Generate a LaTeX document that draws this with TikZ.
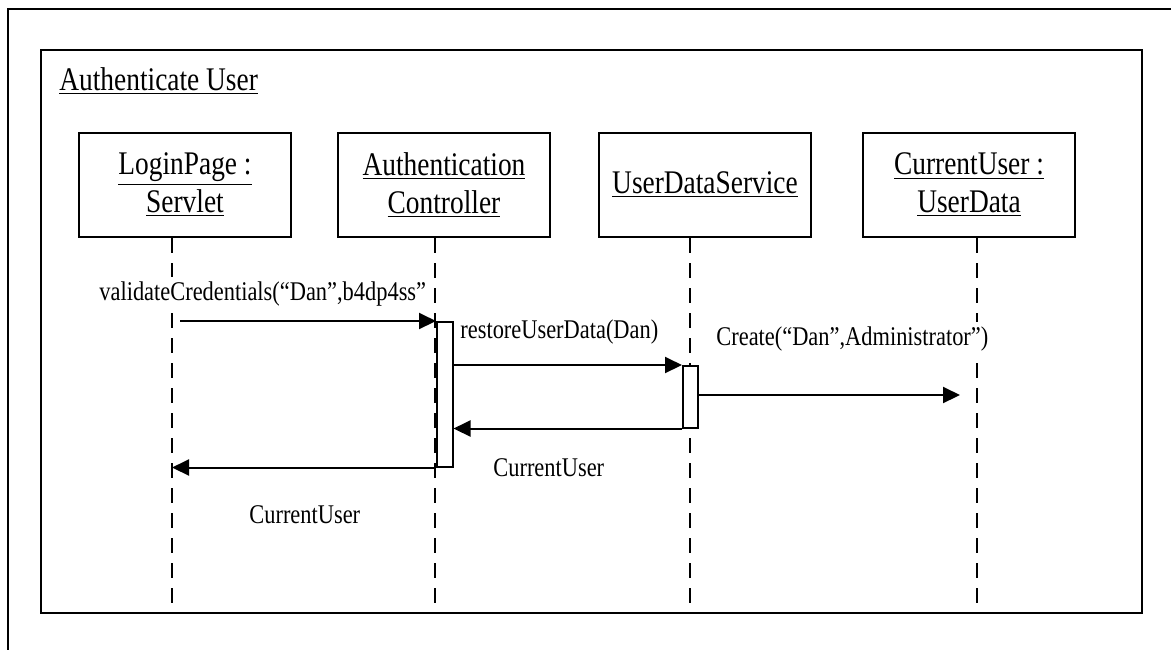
\documentclass[tikz,border=0pt]{standalone}
\usepackage{fontspec}
\setmainfont[FakeStretch=0.83]{Liberation Serif}
\usetikzlibrary{arrows.meta}
\tikzset{
  obj/.style={draw, line width=1pt, minimum width=106pt, minimum height=52pt,
    align=center, inner sep=0pt, font=\fontsize{16.5}{19}\selectfont},
  life/.style={line width=0.8pt, dash pattern=on 7.5pt off 5pt},
  bar/.style={draw, fill=white, line width=0.75pt, inner sep=0pt, anchor=north west},
  msg/.style={line width=1pt, -{Triangle[length=8.5pt,width=8pt]}},
  lbl/.style={anchor=base west, fill=white, inner xsep=0pt, inner ysep=2pt,
    font=\fontsize{13.5}{16}\selectfont},
}
\begin{document}
\begin{tikzpicture}[x=0.5pt, y=-0.5pt]
      \useasboundingbox (0,0) rectangle (1171,650);
      \draw[line width=1pt] (1171,9) -- (8,9) -- (8,650);
      \draw[line width=1pt] (41,50) rectangle (1142,613);
      \node[lbl, font=\fontsize{16.5}{19}\selectfont] (title) at (59,90) {\underline{Authenticate User}};
      \draw
        (185,185) node[obj] (login) {\underline{LoginPage :}\\\underline{Servlet}}
        (444,185) node[obj] (auth) {\underline{Authentication}\\\underline{Controller}}
        (705,185) node[obj] (uds) {\underline{UserDataService}}
        (969,185) node[obj] (cu) {\underline{CurrentUser :}\\\underline{UserData}};
      \foreach \n/\x in {login/172, auth/435, uds/690, cu/977} {
        \coordinate (\n-end) at (\x,613);
        \draw[life] (\n.south -| \n-end) -- (\n-end);
      }
      \node[bar, minimum width=8pt, minimum height=72.5pt] (act1) at (436,321) {};
      \node[bar, minimum width=7.5pt, minimum height=31pt] (act2) at (682,365) {};
      \coordinate (call) at (180,321);
      \coordinate (create) at (960,395);
      \begin{scope}[every path/.style={msg}]
        \draw (call) -- (act1.north west);
        \draw (act1.east |- act2.north west) -- (act2.north west);
        \draw (create -| act2.east) -- (create);
        \draw (act2.south west) -- (act2.south west -| act1.east);
        \draw (act1.south west) -- (act1.south west -| login-end);
      \end{scope}
      \node[lbl] (m1) at (99,300) {validateCredentials(“Dan”,b4dp4ss”};
      \node[lbl] (m2) at (460,338) {restoreUserData(Dan)};
      \node[lbl] (m3) at (716,345) {Create(“Dan”,Administrator”)};
      \node[lbl] (m4) at (493,476) {CurrentUser};
      \node[lbl] (m5) at (249,523) {CurrentUser};
    \end{tikzpicture}
\end{document}
